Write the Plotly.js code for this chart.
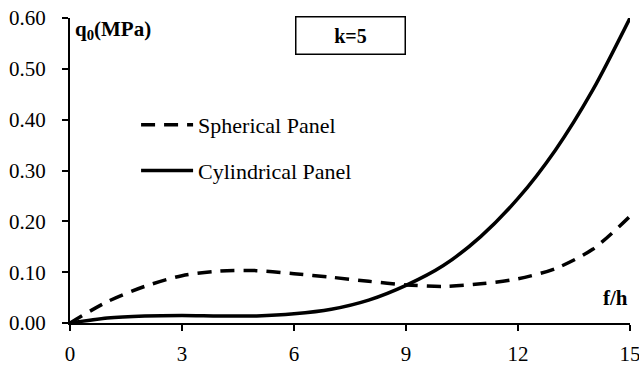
<!DOCTYPE html>
<html>
<head>
<meta charset="utf-8">
<script src="https://cdn.plot.ly/plotly-3.0.1.min.js"></script>
<style>html,body{margin:0;padding:0;background:#fff;}#chart{width:639px;height:366px;}</style>
</head>
<body>
<div id="chart"></div>
<script>
const fh = [0, 1, 2, 3, 4, 5, 6, 7, 8, 9, 10, 11, 12, 13, 14, 15];
const spherical = [0, 0.042, 0.072, 0.093, 0.102, 0.103, 0.097, 0.090, 0.082, 0.075, 0.072, 0.077, 0.087, 0.107, 0.145, 0.210];
const cylindrical = [0, 0.010, 0.014, 0.015, 0.014, 0.014, 0.018, 0.027, 0.045, 0.074, 0.113, 0.170, 0.245, 0.340, 0.458, 0.600];
const xTicks = [0, 3, 6, 9, 12, 15];
const yTicks = [0, 0.1, 0.2, 0.3, 0.4, 0.5, 0.6];
const seriesNames = ["Spherical Panel", "Cylindrical Panel"];

const serif = "Liberation Serif";

const traces = [
  {x: fh, y: spherical, name: seriesNames[0], mode: "lines", legendgroup: "a",
   line: {color: "#000", width: 3.5, dash: "14px,9px", shape: "spline", smoothing: 0.8}},
  {x: fh, y: cylindrical, name: seriesNames[1], mode: "lines", legendgroup: "b",
   line: {color: "#000", width: 3.5, shape: "spline", smoothing: 0.8}}
];

const layout = {
  width: 639, height: 366,
  margin: {l: 70, r: 9, t: 18, b: 43},
  paper_bgcolor: "#fff", plot_bgcolor: "#fff",
  font: {family: serif, size: 21, color: "#000"},
  showlegend: true,
  legend: {x: 0.118, y: 0.718, xanchor: "left", yanchor: "top", bgcolor: "rgba(0,0,0,0)", itemwidth: 52,
           font: {family: serif, size: 22, color: "#000"}, tracegroupgap: 14, traceorder: "grouped"},
  xaxis: {range: [0, 15], tickvals: xTicks, ticktext: xTicks.map(String), showgrid: false, zeroline: false,
          showline: true, linecolor: "#000", linewidth: 2, ticks: "outside", ticklen: 6, tickwidth: 2, tickcolor: "#000",
          ticklabelstandoff: 5, ticklabeloverflow: "allow",
          tickfont: {family: serif, size: 21, color: "#000"}, fixedrange: true},
  yaxis: {range: [0, 0.6], tickvals: yTicks, ticktext: yTicks.map(v => v.toFixed(2)), showgrid: false, zeroline: false,
          showline: true, linecolor: "#000", linewidth: 2, ticks: "outside", ticklen: 6, tickwidth: 2, tickcolor: "#000",
          ticklabelstandoff: 12,
          tickfont: {family: serif, size: 21, color: "#000"}, fixedrange: true},
  annotations: [
    {xref: "paper", yref: "paper", x: 0.006, y: 1.01, xanchor: "left", yanchor: "top", showarrow: false,
     text: "<b>q<sub>0</sub>(MPa)</b>", font: {family: serif, size: 21, color: "#000"}},
    {xref: "paper", yref: "paper", x: 1.0, y: 0.035, xanchor: "right", yanchor: "bottom", showarrow: false,
     text: "<b>f/h</b>", font: {family: serif, size: 21, color: "#000"}},
    {xref: "paper", yref: "paper", x: 0.5, y: 1.007, xanchor: "center", yanchor: "top", showarrow: false,
     text: "<b>k=5</b>", font: {family: serif, size: 20, color: "#000"},
     bordercolor: "#000", borderwidth: 1.5, borderpad: 6, width: 96, height: 24, bgcolor: "#fff"}
  ]
};

Plotly.newPlot("chart", traces, layout, {displayModeBar: false, staticPlot: true});
</script>
</body>
</html>
